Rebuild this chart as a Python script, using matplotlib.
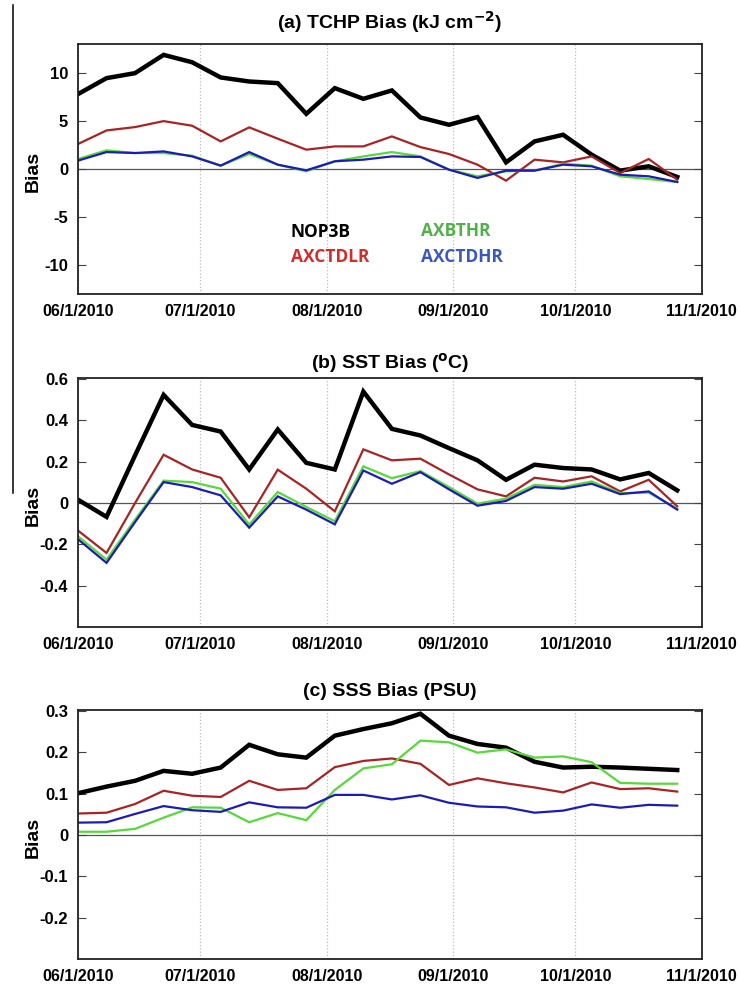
import matplotlib
matplotlib.use('Agg')
import matplotlib.pyplot as plt
from matplotlib.lines import Line2D
import pandas as pd

plt.rcParams['font.family'] = ['Liberation Sans', 'DejaVu Sans']

# fechas semanales (x)
fechas = pd.to_datetime([
    '2010-06-01', '2010-06-08', '2010-06-15', '2010-06-22', '2010-06-29',
    '2010-07-06', '2010-07-13', '2010-07-20', '2010-07-27', '2010-08-03',
    '2010-08-10', '2010-08-17', '2010-08-24', '2010-08-31', '2010-09-07',
    '2010-09-14', '2010-09-21', '2010-09-28', '2010-10-05', '2010-10-12',
    '2010-10-19', '2010-10-26'])

meses = pd.to_datetime(['2010-06-01', '2010-07-01', '2010-08-01',
                        '2010-09-01', '2010-10-01', '2010-11-01'])
etiquetas_meses = ['06/1/2010', '07/1/2010', '08/1/2010',
                   '09/1/2010', '10/1/2010', '11/1/2010']

# (a) TCHP
tchp_nop3b = [7.79, 9.45, 9.97, 11.87, 11.1, 9.52, 9.10, 8.93, 5.74, 8.41, 7.30,
              8.17, 5.36, 4.60, 5.40, 0.69, 2.87, 3.56, 1.49, -0.17, 0.28, -0.83]
tchp_axctdlr = [2.60, 4.01, 4.36, 4.98, 4.50, 2.87, 4.33, 3.15, 2.01, 2.35, 2.35,
                3.39, 2.28, 1.56, 0.45, -1.21, 0.97, 0.69, 1.31, -0.42, 1.04, -1.11]
tchp_axbthr = [1.04, 1.94, 1.66, 1.66, 1.38, 0.35, 1.56, 0.45, -0.24, 0.80, 1.31,
               1.76, 1.31, -0.07, -0.76, -0.24, -0.17, 0.55, 0.35, -0.76, -1.04, -1.35]
tchp_axctdhr = [0.87, 1.76, 1.66, 1.83, 1.31, 0.35, 1.76, 0.45, -0.14, 0.80, 0.97,
                1.31, 1.25, -0.07, -0.93, -0.17, -0.17, 0.45, 0.28, -0.59, -0.76, -1.35]

# (b) SST
sst_nop3b = [0.016, -0.067, 0.23, 0.522, 0.377, 0.345, 0.162, 0.355, 0.194, 0.162, 0.538,
             0.358, 0.326, 0.265, 0.206, 0.112, 0.185, 0.169, 0.162, 0.114, 0.145, 0.061]
sst_axctdlr = [-0.133, -0.241, 0.0, 0.233, 0.162, 0.122, -0.069, 0.161, 0.069, -0.040, 0.259,
               0.206, 0.214, 0.138, 0.066, 0.032, 0.122, 0.104, 0.129, 0.056, 0.112, -0.016]
sst_axbthr = [-0.161, -0.273, -0.080, 0.108, 0.101, 0.069, -0.104, 0.053, -0.019, -0.088, 0.177,
              0.120, 0.154, 0.077, -0.003, 0.021, 0.088, 0.077, 0.104, 0.048, 0.050, -0.027]
sst_axctdhr = [-0.175, -0.289, -0.092, 0.101, 0.077, 0.037, -0.119, 0.032, -0.032, -0.103, 0.157,
               0.093, 0.149, 0.066, -0.013, 0.010, 0.077, 0.069, 0.093, 0.043, 0.056, -0.032]

# (c) SSS
sss_nop3b = [0.101, 0.117, 0.131, 0.155, 0.148, 0.163, 0.218, 0.195, 0.187, 0.240, 0.256,
             0.270, 0.293, 0.240, 0.220, 0.211, 0.177, 0.163, 0.165, 0.163, 0.160, 0.157]
sss_axctdlr = [0.052, 0.054, 0.075, 0.107, 0.095, 0.092, 0.131, 0.109, 0.113, 0.164, 0.179,
               0.185, 0.172, 0.121, 0.137, 0.125, 0.115, 0.103, 0.127, 0.111, 0.113, 0.105]
sss_axbthr = [0.008, 0.008, 0.015, 0.042, 0.067, 0.066, 0.031, 0.053, 0.036, 0.109, 0.161,
              0.171, 0.228, 0.224, 0.199, 0.207, 0.187, 0.190, 0.176, 0.126, 0.124, 0.124]
sss_axctdhr = [0.030, 0.031, 0.051, 0.070, 0.060, 0.056, 0.079, 0.067, 0.066, 0.097, 0.097,
               0.086, 0.096, 0.078, 0.069, 0.067, 0.054, 0.059, 0.074, 0.066, 0.073, 0.071]

paneles = [
    ('(a) TCHP Bias (kJ cm$^{\\mathbf{-2}}$)', [tchp_nop3b, tchp_axctdlr, tchp_axbthr, tchp_axctdhr],
     (-13, 13), [-10, -5, 0, 5, 10], ['-10', '-5', '0', '5', '10']),
    ('(b) SST Bias ($^{\\mathbf{o}}$C)', [sst_nop3b, sst_axctdlr, sst_axbthr, sst_axctdhr],
     (-0.6, 0.605), [-0.4, -0.2, 0, 0.2, 0.4, 0.6], ['-0.4', '-0.2', '0', '0.2', '0.4', '0.6']),
    ('(c) SSS Bias (PSU)', [sss_nop3b, sss_axctdlr, sss_axbthr, sss_axctdhr],
     (-0.3, 0.302), [-0.2, -0.1, 0, 0.1, 0.2, 0.3], ['-0.2', '-0.1', '0', '0.1', '0.2', '0.3']),
]

colores = ['black', '#a82424', '#58d83a', '#1c1cb4']
grosores = [3.2, 1.6, 1.6, 1.6]

fig = plt.figure(figsize=(7.4, 9.89), dpi=100)

# posiciones de los ejes en pixeles (arriba, abajo)
W, H = 740, 989
cajas = [(44, 294), (377.7, 627.3), (710, 959.3)]
y_titulos = [22, 363, 692]
izq, der = 78, 701.7

for i, (titulo, series, ylim, yticks, ylabels) in enumerate(paneles):
    top, bot = cajas[i]
    ax = fig.add_axes([izq / W, 1 - bot / H, (der - izq) / W, (bot - top) / H])
    for s, c, lw in zip(series, colores, grosores):
        ax.plot(fechas, s, color=c, lw=lw, solid_joinstyle='miter')
    ax.axhline(0, color='#555555', lw=0.9, zorder=0)
    ax.set_xlim(meses[0], meses[-1])
    ax.set_ylim(*ylim)
    ax.set_xticks(meses)
    ax.set_xticklabels(etiquetas_meses, fontsize=11.5, fontweight='bold')
    ax.set_yticks(yticks)
    ax.set_yticklabels(ylabels, fontsize=12, fontweight='bold')
    ax.tick_params(axis='x', length=0, pad=7)
    ax.tick_params(axis='y', direction='in', length=6, right=True, pad=7, width=0.8, color='#444444')
    ax.grid(axis='x', color='#bbbbbb', linestyle=':', lw=0.9)
    for sp in ax.spines.values():
        sp.set_linewidth(1.3)
        sp.set_color('#222222')
    ax.set_ylabel('Bias', fontsize=14, fontweight='bold')
    ax.yaxis.set_label_coords(-0.058, 0.49)
    fig.text(390 / W, 1 - y_titulos[i] / H, titulo, ha='center', va='center',
             fontsize=14, fontweight='bold')
    if i == 0:
        ley = [('NOP3B', 'black', 291, 232), ('AXCTDLR', '#d42b2b', 291, 257),
               ('AXBTHR', '#52b04a', 421, 231), ('AXCTDHR', '#3a57c0', 421, 257)]
        for txt, c, px, py in ley:
            fig.text(px / W, 1 - py / H, txt, color=c, ha='left', va='center',
                     fontsize=12.5, fontweight='bold', family=['Open Sans', 'DejaVu Sans'])

# línea vertical a la izquierda de la imagen original
fig.add_artist(Line2D([13 / W, 13 / W], [1 - 5 / H, 1 - 493 / H], color='black', lw=1.1))

fig.savefig('out.png', dpi=100)
